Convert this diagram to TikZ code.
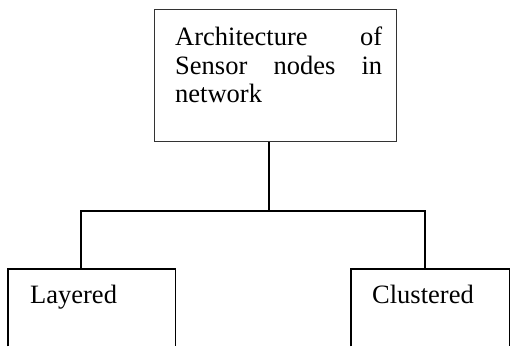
\documentclass[tikz,border=0pt]{standalone}
\usepackage{fontspec}
\setmainfont{Liberation Serif}
\begin{document}
\begin{tikzpicture}[x=1pt,y=1pt,
  every node/.style={font=\fontsize{26.5}{28.5}\selectfont},
  frame/.style={draw=black!80, line width=1.1pt},
  link/.style={draw=black, line width=1.6pt},
  leaf/.style={inner sep=0pt, minimum height=77pt, anchor=north west},
  label/.style={inner sep=0pt, anchor=base west}]
  \useasboundingbox (0,0) rectangle (511,-346);

  % root box with its justified caption
  \node[frame, anchor=north west, minimum width=242pt, minimum height=132pt, inner sep=0pt]
    (root) at (154,-9) {};
  \node[inner sep=0pt, anchor=north west, text width=207pt, align=left]
    (roottext) at (175,-27) {Architecture\hfill of\\Sensor\hfill nodes\hfill in\\network};

  % junctions of the tree
  \coordinate (mid) at (269,-211);
  \coordinate (jl) at (81,-211);
  \coordinate (jr) at (425,-211);

  % leaf boxes, open at the bottom
  \node[leaf, minimum width=167pt] (leftbox) at (8,-269) {};
  \node[leaf, minimum width=158pt] (rightbox) at (351,-269) {};
  \draw[link] (leftbox.south west) -- (leftbox.north west) -- (leftbox.north east) -- (leftbox.south east);
  \draw[link] (rightbox.south west) -- (rightbox.north west) -- (rightbox.north east) -- (rightbox.south east);

  \node[label] (layered) at (30,-303) {Layered};
  \node[label] (clustered) at (372,-303) {Clustered};

  % connectors
  \draw[link] (root.south -| mid) -- (mid);
  \draw[link] (jl |- leftbox.north) -- (jl) -- (jr) -- (jr |- rightbox.north);
\end{tikzpicture}
\end{document}
